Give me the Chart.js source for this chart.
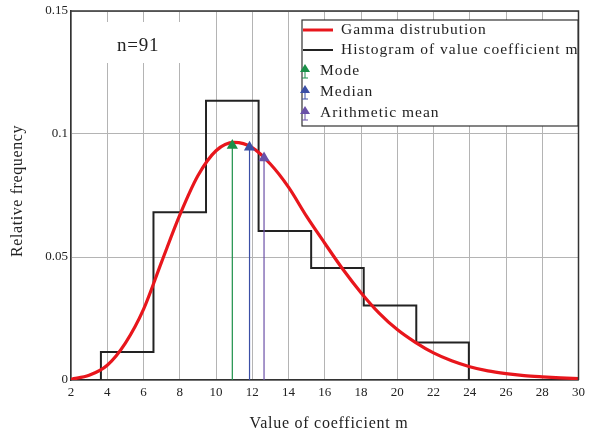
<!DOCTYPE html>
<html lang="en">
<head>
<meta charset="UTF-8">
<title>Gamma distrubution of coefficient m</title>
<script src="https://cdn.jsdelivr.net/npm/chart.js"></script>
<style>
  html, body { margin: 0; padding: 0; background: #fff; }
  #wrap { width: 590px; height: 435px; }
</style>
</head>
<body>
<div id="wrap"><canvas id="myChart" width="590" height="435"></canvas></div>
<script>
// histogram of value coefficient m (n = 91)
const binEdges = [3.65, 6.55, 9.45, 12.35, 15.25, 18.15, 21.05, 23.95];
const binHeights = [0.0114, 0.0682, 0.1135, 0.0606, 0.0455, 0.0303, 0.0152];

// gamma curve
const gammaX = [2, 3, 4, 5, 6, 7, 8, 9, 10, 11, 12, 13, 14, 15, 16,
                17, 18, 19, 20, 21, 22, 23, 24, 25, 26, 27, 28, 29, 30];
const gammaY = [0.0003, 0.0019, 0.0060, 0.0150, 0.0287, 0.0480, 0.0670, 0.0830, 0.0932, 0.0966,
                0.0945, 0.0878, 0.0784, 0.0665, 0.0556, 0.0450, 0.0355, 0.0272, 0.0205, 0.0153,
                0.0110, 0.0078, 0.0054, 0.0037, 0.0026, 0.0018, 0.0013, 0.0009, 0.0006];

// statistics markers
const statNames = ['Mode', 'Median', 'Arithmetic mean'];
const statX = [10.9, 11.85, 12.65];
const statY = [0.0953, 0.0946, 0.0902];
const statColors = ['#1b8f48', '#3b4fa6', '#6b51a8'];

const xTicks = [2, 4, 6, 8, 10, 12, 14, 16, 18, 20, 22, 24, 26, 28, 30];
const yTicks = [0, 0.05, 0.1, 0.15];

const serif = '"Liberation Serif", "DejaVu Serif", serif';

// build the histogram outline from edges/heights
const histPoints = [{x: 2, y: 0}, {x: binEdges[0], y: 0}];
binHeights.forEach((h, i) => {
    histPoints.push({x: binEdges[i], y: h});
    histPoints.push({x: binEdges[i + 1], y: h});
});
histPoints.push({x: binEdges[binEdges.length - 1], y: 0});
histPoints.push({x: 30, y: 0});

const datasets = [];
statNames.forEach((name, i) => {
    datasets.push({
        label: name,
        data: [{x: statX[i], y: 0}, {x: statX[i], y: statY[i]}],
        borderColor: statColors[i],
        backgroundColor: statColors[i],
        borderWidth: 1.2,
        pointStyle: 'triangle',
        pointRadius: [0, 6.5],
        pointBorderWidth: 0,
        showLine: true
    });
});
datasets.push({
    label: 'Gamma distrubution',
    data: gammaX.map((x, i) => ({x: x, y: gammaY[i]})),
    borderColor: '#e8161c',
    borderWidth: 3.2,
    pointRadius: 0,
    cubicInterpolationMode: 'monotone',
    showLine: true
});
datasets.push({
    label: 'Histogram of value coefficient m',
    data: histPoints,
    borderColor: '#222',
    borderWidth: 2,
    pointRadius: 0,
    showLine: true
});

// legend box, n=91 label, frame and axis titles
const decorations = {
    id: 'decorations',
    afterDraw(chart) {
        const ctx = chart.ctx;
        const a = chart.chartArea;
        ctx.save();

        // frame top/right
        ctx.strokeStyle = '#333';
        ctx.lineWidth = 1.5;
        ctx.beginPath();
        ctx.moveTo(a.left, a.top);
        ctx.lineTo(a.right, a.top);
        ctx.lineTo(a.right, a.bottom);
        ctx.stroke();

        // n=91
        ctx.fillStyle = '#fff';
        ctx.fillRect(96, 22, 98, 41);
        ctx.fillStyle = '#222';
        ctx.font = '19px ' + serif;
        ctx.letterSpacing = '0.8px';
        ctx.textBaseline = 'middle';
        ctx.textAlign = 'left';
        ctx.fillText('n=91', 117, 46);

        // legend
        const bx = 302, by = 20, bw = 276, bh = 106;
        ctx.fillStyle = '#fff';
        ctx.fillRect(bx, by, bw, bh);
        ctx.strokeStyle = '#333';
        ctx.lineWidth = 1.2;
        ctx.strokeRect(bx, by, bw, bh);

        ctx.font = '15.5px ' + serif;
        ctx.letterSpacing = '1px';
        ctx.lineWidth = 3;
        ctx.strokeStyle = '#e8161c';
        ctx.beginPath(); ctx.moveTo(303, 30); ctx.lineTo(333, 30); ctx.stroke();
        ctx.lineWidth = 2;
        ctx.strokeStyle = '#222';
        ctx.beginPath(); ctx.moveTo(303, 50); ctx.lineTo(333, 50); ctx.stroke();
        ctx.fillStyle = '#222';
        ctx.fillText('Gamma distrubution', 341, 30);
        ctx.fillText('Histogram of value coefficient m', 341, 50);

        const rows = [71, 92, 113];
        statNames.forEach((name, i) => {
            const cy = rows[i];
            const cx = 305;
            ctx.fillStyle = statColors[i];
            ctx.strokeStyle = statColors[i];
            ctx.beginPath();
            ctx.moveTo(cx, cy - 7);
            ctx.lineTo(cx + 5, cy + 1);
            ctx.lineTo(cx - 5, cy + 1);
            ctx.closePath();
            ctx.fill();
            ctx.lineWidth = 1;
            ctx.beginPath();
            ctx.moveTo(cx, cy + 1); ctx.lineTo(cx, cy + 7);
            ctx.moveTo(cx - 3, cy + 7); ctx.lineTo(cx + 3, cy + 7);
            ctx.stroke();
            ctx.fillStyle = '#222';
            ctx.fillText(name, 320, cy);
        });

        // axis titles
        ctx.font = '16px ' + serif;
        ctx.letterSpacing = '0.75px';
        ctx.textAlign = 'center';
        ctx.fillText('Value of coefficient m', 329, 424);
        ctx.letterSpacing = '0.6px';
        ctx.translate(18, 191);
        ctx.rotate(-Math.PI / 2);
        ctx.fillText('Relative frequency', 0, 0);
        ctx.restore();
    }
};

const ctx = document.getElementById('myChart').getContext('2d');
const chart = new Chart(ctx, {
    type: 'scatter',
    data: { datasets: datasets },
    options: {
        responsive: false,
        animation: false,
        layout: { padding: { top: 11, right: 11, left: 0, bottom: 0 } },
        plugins: {
            legend: { display: false },
            tooltip: { enabled: false }
        },
        scales: {
            x: {
                type: 'linear',
                min: 2,
                max: 30,
                afterBuildTicks: s => { s.ticks = xTicks.map(v => ({value: v})); },
                afterFit: s => { s.height = 55; },
                grid: { color: '#b4b4b4', lineWidth: 1, drawTicks: false },
                border: { display: true, color: '#333', width: 1.5 },
                ticks: {
                    color: '#222',
                    padding: 5,
                    maxRotation: 0,
                    font: { family: serif, size: 13 },
                    callback: v => String(v)
                }
            },
            y: {
                type: 'linear',
                min: 0,
                max: 0.15,
                afterBuildTicks: s => { s.ticks = yTicks.map(v => ({value: v})); },
                afterFit: s => { s.width = 71; },
                grid: { color: '#b4b4b4', lineWidth: 1, drawTicks: false },
                border: { display: true, color: '#333', width: 1.5 },
                ticks: {
                    color: '#222',
                    padding: 3,
                    font: { family: serif, size: 13 },
                    callback: v => String(v)
                }
            }
        }
    },
    plugins: [decorations]
});
</script>
</body>
</html>
